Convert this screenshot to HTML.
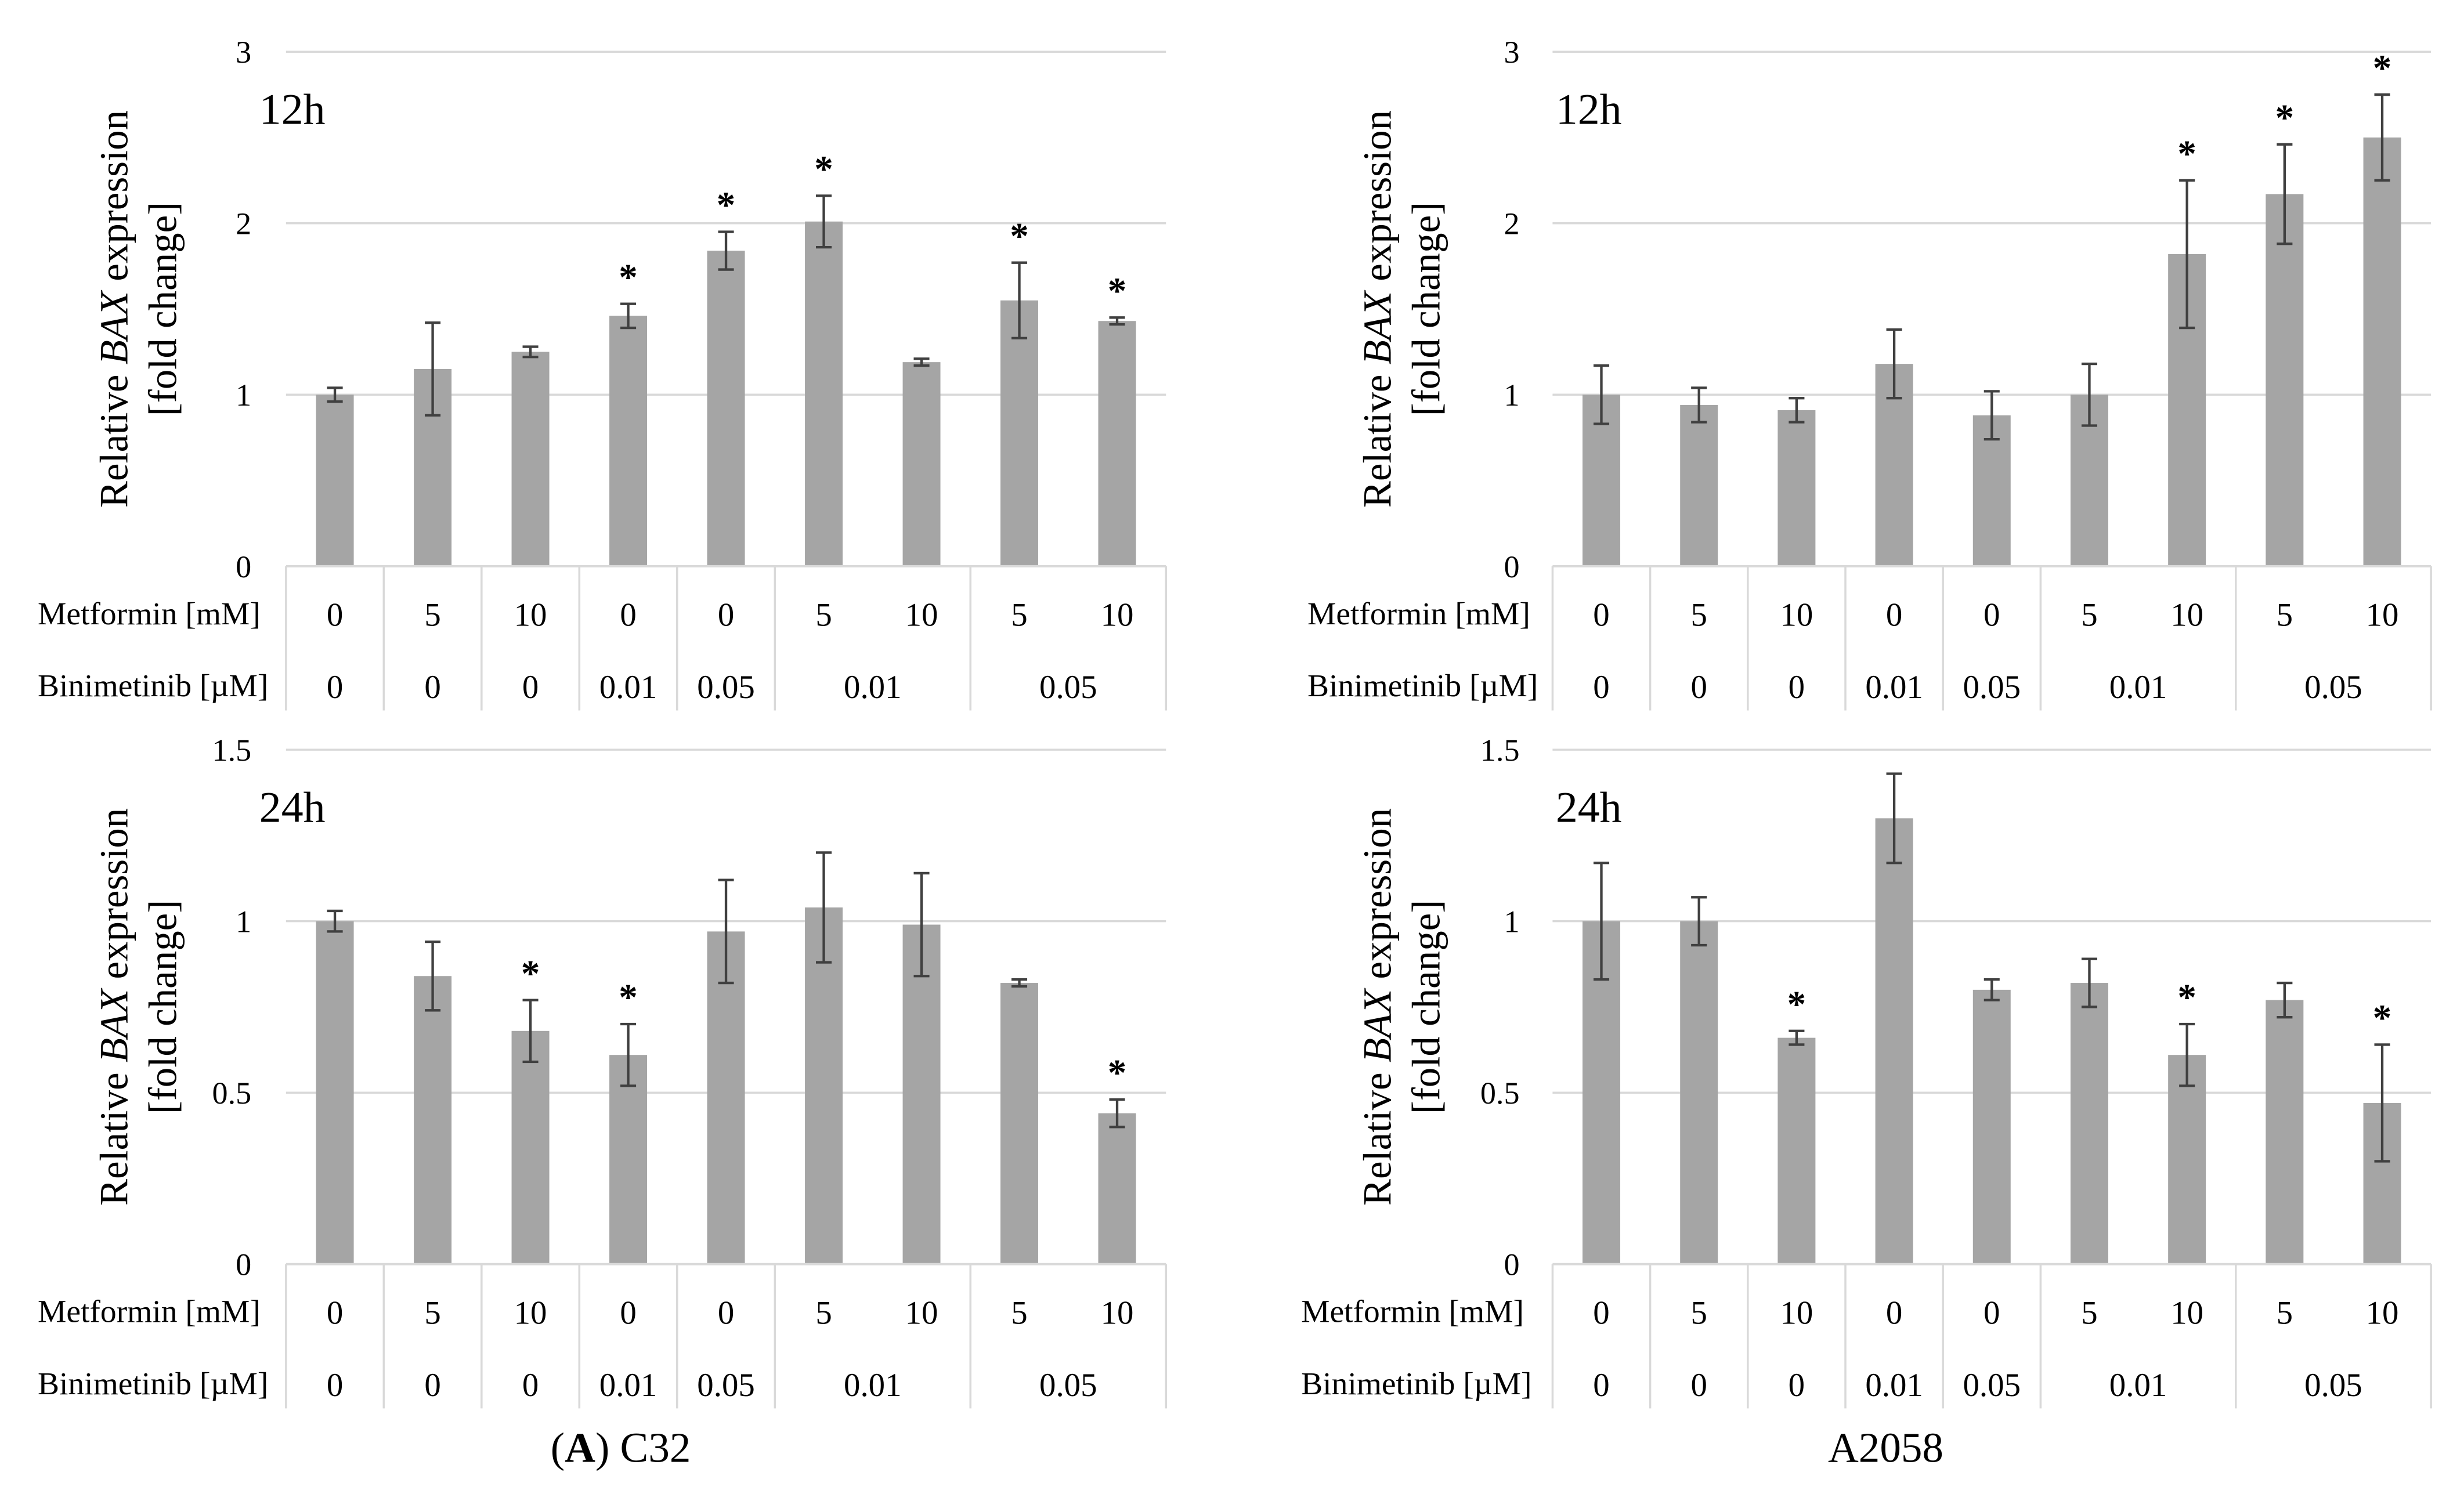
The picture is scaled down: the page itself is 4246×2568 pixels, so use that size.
<!DOCTYPE html>
<html><head><meta charset="utf-8">
<style>
html,body{margin:0;padding:0;background:#fff;}
svg{display:block;}
text{font-family:"Liberation Serif",serif;fill:#000;}
</style></head>
<body>
<svg id="chart" width="4246" height="2568" viewBox="0 0 1568 950" preserveAspectRatio="none" xmlns="http://www.w3.org/2000/svg"></svg>
<script>
const metformin = ["0","5","10","0","0","5","10","5","10"];
const binimetinib = ["0","0","0","0.01","0.05","0.01","0.05"];
const c32_12h = [1.0,1.15,1.25,1.46,1.84,2.01,1.19,1.55,1.43];
const c32_12h_err = [0.04,0.27,0.03,0.07,0.11,0.15,0.02,0.22,0.02];
const c32_12h_star = [0,0,0,1,1,1,0,1,1];
const a2058_12h = [1.0,0.94,0.91,1.18,0.88,1.0,1.82,2.17,2.5];
const a2058_12h_err = [0.17,0.10,0.07,0.20,0.14,0.18,0.43,0.29,0.25];
const a2058_12h_star = [0,0,0,0,0,0,1,1,1];
const c32_24h = [1.0,0.84,0.68,0.61,0.97,1.04,0.99,0.82,0.44];
const c32_24h_err = [0.03,0.10,0.09,0.09,0.15,0.16,0.15,0.01,0.04];
const c32_24h_star = [0,0,1,1,0,0,0,0,1];
const a2058_24h = [1.0,1.0,0.66,1.3,0.8,0.82,0.61,0.77,0.47];
const a2058_24h_err = [0.17,0.07,0.02,0.13,0.03,0.07,0.09,0.05,0.17];
const a2058_24h_star = [0,0,1,0,0,0,1,0,1];
const ticks12 = ["0","1","2","3"];
const ticks24 = ["0","0.5","1","1.5"];

const NS="http://www.w3.org/2000/svg";
const svg=document.getElementById('chart');
function mk(tag,attrs,parent,txt){const e=document.createElementNS(NS,tag);for(const k in attrs)e.setAttribute(k,attrs[k]);if(txt!==undefined)e.textContent=txt;(parent||svg).appendChild(e);return e;}

function panel(name,x0,x1,y0,ytop,maxV,tickLabels,vals,errs,stars,title,labX,titleX,tickX){
  const g=mk('g',{},svg);
  
  
  const ys=v=>y0-(v/maxV)*(y0-ytop);
  const n=vals.length, cw=(x1-x0)/n, xc=i=>x0+cw*(i+0.5);
  tickLabels.forEach((t,i)=>{
    const v=maxV*i/(tickLabels.length-1);
    if(i>0){const l=mk('line',{x1:x0,x2:x1,y1:ys(v),y2:ys(v),stroke:'#d9d9d9','stroke-width':1.3},g);
      }
    const tt=mk('text',{x:tickX,y:ys(v)+7,'font-size':20,'text-anchor':'end'},g,t);
    
  });
  vals.forEach((v,i)=>{
    const b=mk('rect',{x:xc(i)-12,y:ys(v),width:24,height:y0-ys(v),fill:'#a5a5a5'},g);
    
    const hi=ys(v+errs[i]),lo=ys(v-errs[i]);
    const e=mk('path',{d:`M${xc(i)},${hi}V${lo}M${xc(i)-5},${hi}H${xc(i)+5}M${xc(i)-5},${lo}H${xc(i)+5}`,stroke:'#404040','stroke-width':1.6,fill:'none'},g);
    
    if(stars[i]){const s=mk('text',{x:xc(i),y:hi-9,'font-size':24,'font-weight':'bold','text-anchor':'middle'},g,'*');
      }
  });
  const tb=y0+92;
  mk('line',{x1:x0,x2:x1,y1:y0,y2:y0,stroke:'#d9d9d9','stroke-width':1.5},g);
  const seps=[0,1,2,3,4,5,7,9];
  seps.forEach(k=>{mk('line',{x1:x0+cw*k,x2:x0+cw*k,y1:y0,y2:tb,stroke:'#d9d9d9','stroke-width':1.3},g);});
  metformin.forEach((m,i)=>{const t=mk('text',{x:xc(i),y:y0+38,'font-size':21,'text-anchor':'middle'},g,m);
    });
  const spans=[[0,1],[1,2],[2,3],[3,4],[4,5],[5,7],[7,9]];
  binimetinib.forEach((b,i)=>{const cx=x0+cw*(spans[i][0]+spans[i][1])/2;
    const t=mk('text',{x:cx,y:y0+84,'font-size':21,'text-anchor':'middle'},g,b);
    });
  const r1=mk('text',{x:labX,y:y0+37,'font-size':20.5},g,'Metformin [mM]');
  
  const r2=mk('text',{x:labX,y:y0+83,'font-size':20.5},g,'Binimetinib [µM]');
  
  const ti=mk('text',{x:x0+(x0<500?-17:2),y:ytop+46,'font-size':28},g,title);
  
  const cy=(ytop+y0)/2;
  const yt=mk('text',{transform:`translate(${titleX},${cy}) rotate(-90)`,'font-size':25.5,'text-anchor':'middle'},g);
  
  yt.innerHTML='<tspan x="0" y="0">Relative <tspan font-style="italic">BAX</tspan> expression</tspan><tspan x="0" y="31">[fold change]</tspan>';
}
panel('panel-c32-12h',182,742,361,33,3,ticks12,c32_12h,c32_12h_err,c32_12h_star,'12h',24,81,160);
panel('panel-a2058-12h',988,1547,361,33,3,ticks12,a2058_12h,a2058_12h_err,a2058_12h_star,'12h',832,885,967);
panel('panel-c32-24h',182,742,806,478,1.5,ticks24,c32_24h,c32_24h_err,c32_24h_star,'24h',24,81,160);
panel('panel-a2058-24h',988,1547,806,478,1.5,ticks24,a2058_24h,a2058_24h_err,a2058_24h_star,'24h',828,885,967);
const c1=mk('text',{x:395,y:932,'font-size':27,'text-anchor':'middle'});

c1.innerHTML='(<tspan font-weight="bold">A</tspan>) C32';
const c2=mk('text',{x:1200,y:932,'font-size':27,'text-anchor':'middle'},svg,'A2058');

</script>
</body></html>
